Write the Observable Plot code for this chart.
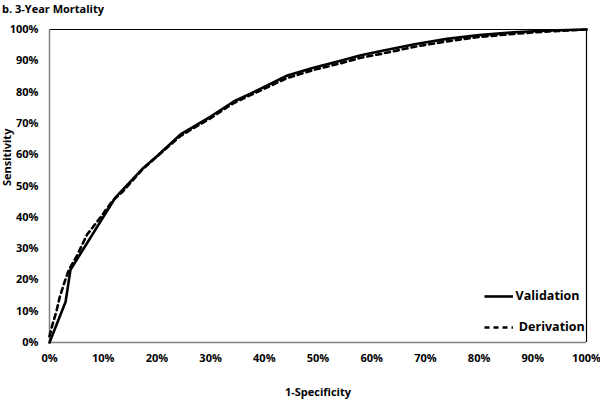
<!DOCTYPE html>
<html>
<head>
<meta charset="utf-8">
<script src="https://cdn.jsdelivr.net/npm/d3@7"></script>
<script src="https://cdn.jsdelivr.net/npm/@observablehq/plot@0.6"></script>
<style>
body { margin: 0; background: #fff; }
#wrap { position: relative; width: 600px; height: 403px; font-family: "Open Sans", "Liberation Sans", sans-serif; }
#title { position: absolute; left: 2px; top: 1px; font-size: 11px; font-weight: bold; color: #000; }
</style>
</head>
<body>
<div id="wrap"><div id="title">b. 3-Year Mortality</div></div>
<script>
const valX = [0, 0.03, 0.039, 0.123, 0.173, 0.20, 0.244, 0.30, 0.343, 0.38, 0.443, 0.49, 0.542, 0.58, 0.62, 0.68, 0.74, 0.80, 0.864, 0.93, 1.0];
const valY = [0, 0.13, 0.232, 0.464, 0.555, 0.595, 0.665, 0.722, 0.77, 0.80, 0.853, 0.877, 0.90, 0.918, 0.932, 0.953, 0.97, 0.982, 0.991, 0.997, 1.0];
const derX = [0, 0.005, 0.013, 0.019, 0.028, 0.036, 0.052, 0.07, 0.095, 0.117, 0.135, 0.173, 0.20, 0.244, 0.30, 0.343, 0.38, 0.443, 0.49, 0.542, 0.58, 0.62, 0.68, 0.74, 0.80, 0.864, 0.93, 1.0];
const derY = [0.02, 0.054, 0.10, 0.145, 0.193, 0.232, 0.28, 0.345, 0.40, 0.452, 0.48, 0.553, 0.594, 0.66, 0.717, 0.765, 0.795, 0.845, 0.87, 0.892, 0.91, 0.923, 0.945, 0.962, 0.976, 0.986, 0.994, 1.0];
const xTicks = [0, 0.1, 0.2, 0.3, 0.4, 0.5, 0.6, 0.7, 0.8, 0.9, 1.0];
const yTicks = [0, 0.1, 0.2, 0.3, 0.4, 0.5, 0.6, 0.7, 0.8, 0.9, 1.0];
const seriesNames = ["Validation", "Derivation"];

const val = valX.map((x, i) => ({x, y: valY[i]}));
const der = derX.map((x, i) => ({x, y: derY[i]}));
const pct = d => Math.round(d * 100) + "%";

const chart = Plot.plot({
  width: 600,
  height: 403,
  marginTop: 29,
  marginBottom: 61,
  marginLeft: 49,
  marginRight: 14,
  style: {fontFamily: "'Open Sans', 'Liberation Sans', sans-serif", fontSize: "11px", fontWeight: "bold", color: "#000", background: "#fff"},
  x: {domain: [0, 1], ticks: xTicks, tickFormat: pct, tickSize: 0, tickPadding: 12, label: null},
  y: {domain: [0, 1], ticks: yTicks, tickFormat: pct, tickSize: 0, tickPadding: 11, label: null},
  marks: [
    Plot.ruleY([1], {stroke: "#000", strokeWidth: 1.2}),
    Plot.ruleX([1], {stroke: "#000", strokeWidth: 1.2}),
    Plot.ruleX([0], {stroke: "#808080", strokeWidth: 1.5}),
    Plot.ruleY([0], {stroke: "#808080", strokeWidth: 1.5}),
    Plot.line(der, {x: "x", y: "y", stroke: "#000", strokeWidth: 2.6, strokeDasharray: "5,4", curve: "linear"}),
    Plot.line(val, {x: "x", y: "y", stroke: "#000", strokeWidth: 2.6, curve: "linear"}),
    Plot.axisX({ticks: xTicks, tickFormat: pct, tickSize: 0, tickPadding: 12, label: null}),
    Plot.axisY({ticks: yTicks, tickFormat: pct, tickSize: 0, tickPadding: 11, label: null}),
    Plot.text(["1-Specificity"], {frameAnchor: "bottom", dy: 53, fontSize: 11, fontWeight: "bold"}),
    Plot.text(["Sensitivity"], {frameAnchor: "left", dx: -42, rotate: -90, fontSize: 11, fontWeight: "bold"}),
    // legend
    Plot.ruleY([0], {x1: 0.811, x2: 0.864, y: () => 0.147, stroke: "#000", strokeWidth: 2.6}),
    Plot.ruleY([0], {x1: 0.811, x2: 0.864, y: () => 0.048, stroke: "#000", strokeWidth: 2.6, strokeDasharray: "5,4"}),
    Plot.text([seriesNames[0]], {x: () => 0.868, y: () => 0.147, textAnchor: "start", fontSize: 12.5, fontWeight: "bold"}),
    Plot.text([seriesNames[1]], {x: () => 0.874, y: () => 0.048, textAnchor: "start", fontSize: 12.5, fontWeight: "bold"})
  ]
});
document.getElementById("wrap").appendChild(chart);
</script>
</body>
</html>
